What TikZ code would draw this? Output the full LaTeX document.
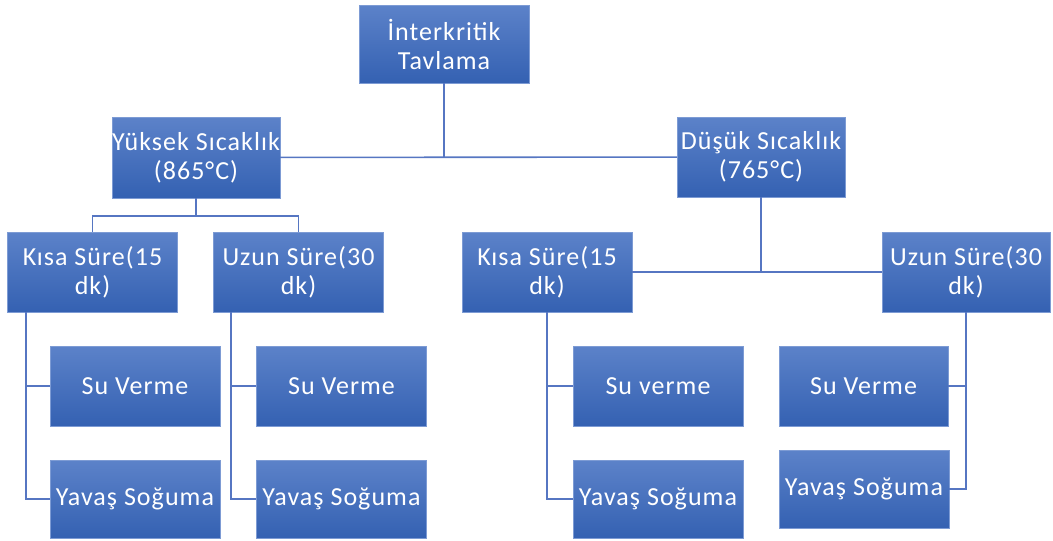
\documentclass[tikz,border=0pt]{standalone}
\usepackage{fontspec}
\setmainfont{Carlito}[LetterSpace=4]
\usetikzlibrary{positioning}

\definecolor{boxtop}{HTML}{5C82C9}
\definecolor{boxbot}{HTML}{3461B2}
\definecolor{linkcol}{HTML}{5676C2}

\begin{document}
\begin{tikzpicture}[x=1pt, y=-1pt,
	box/.style = {top color=boxtop, bottom color=boxbot, draw=boxtop!80!white, line width=0.4pt,
		text=white, align=center, inner sep=0pt, minimum width=170pt, minimum height=80pt,
		font=\fontsize{26}{29}\selectfont},
	link/.style = {draw=linkcol, line width=1.6pt}]
	\useasboundingbox (0,0) rectangle (1053,541);
	% top level
	\node[box, minimum height=78pt] (tav) at (444,44) {İnterkritik\\Tavlama};
	\node[box, minimum width=168pt, minimum height=81pt] (yuk) at (196,157.5) {Yüksek Sıcaklık\\(865°C)};
	\node[box, minimum width=168pt] (dus) at (761,157) {Düşük Sıcaklık\\(765°C)};
	% time boxes
	\node[box] (kisa1) at (92.5,272) {Kısa Süre(15\\dk)};
	\node[box] (uzun1) at (298.5,272) {Uzun Süre(30\\dk)};
	\node[box] (kisa2) at (547,272) {Kısa Süre(15\\dk)};
	\node[box, minimum width=168pt] (uzun2) at (966,272) {Uzun Süre(30\\dk)};
	% cooling boxes
	\node[box] (su1) at (135,386) {Su Verme};
	\node[box, minimum height=78pt] (yav1) at (135,499) {Yavaş Soğuma};
	\node[box] (su2) at (341.5,386) {Su Verme};
	\node[box, minimum height=78pt] (yav2) at (341.5,499) {Yavaş Soğuma};
	\node[box] (su3) at (658,386) {Su verme};
	\node[box, minimum height=78pt] (yav3) at (658,499) {Yavaş Soğuma};
	\node[box, minimum width=169pt] (su4) at (863.5,386) {Su Verme};
	\node[box, minimum height=78pt] (yav4) at (864,489) {Yavaş Soğuma};

	\draw[link] (tav) -- (tav |- yuk);
	\draw[link] (yuk) -- (dus);
	\draw[link] (yuk.south) -- ++(0,18) coordinate (ybr) -| (kisa1.north);
	\draw[link] (ybr) -| (uzun1.north);
	\draw[link] (dus) -- (dus |- kisa2);
	\draw[link] (kisa2) -- (uzun2);
	\draw[link] ([xshift=-66.5pt]kisa1.south) |- (su1.west);
	\draw[link] ([xshift=-66.5pt]kisa1.south) |- (yav1.west);
	\draw[link] ([xshift=-67.5pt]uzun1.south) |- (su2.west);
	\draw[link] ([xshift=-67.5pt]uzun1.south) |- (yav2.west);
	\draw[link] (kisa2.south) |- (su3.west);
	\draw[link] (kisa2.south) |- (yav3.west);
	\draw[link] (uzun2.south) |- (su4.east);
	\draw[link] (uzun2.south) |- (yav4.east);
\end{tikzpicture}
\end{document}
